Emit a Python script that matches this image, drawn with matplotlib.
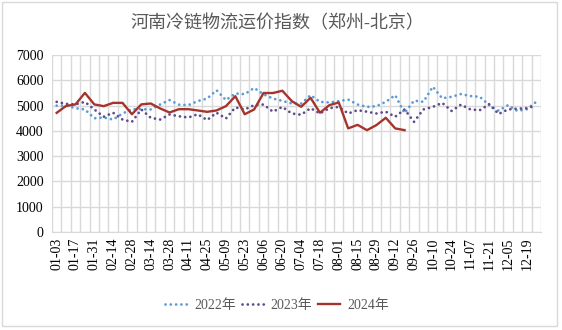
import datetime as dt

import matplotlib
matplotlib.use("Agg")
import matplotlib.pyplot as plt
from matplotlib.patches import Rectangle

# weekly categories, 01-03 .. 12-26
start = dt.date(2022, 1, 3)
weeks = [(start + dt.timedelta(days=7 * k)).strftime("%m-%d") for k in range(52)]

idx_2022 = [5000, 5000, 4900, 4850, 4500, 4530, 4450, 4690, 4860, 4860,
            4850, 5045, 5220, 5040, 5020, 5180, 5280, 5610, 5220, 5480,
            5455, 5700, 5450, 5280, 5190, 5085, 5085, 5415, 5150, 5125,
            5180, 5240, 5045, 4950, 4980, 5150, 5415, 4700, 5200, 5150,
            5750, 5290, 5350, 5460, 5380, 5350, 5020, 4800, 5020, 4790,
            4860, 5150]
idx_2023 = [5150, 5070, 5050, 5150, 4850, 4560, 4720, 4450, 4360, 4850,
            4520, 4450, 4650, 4580, 4530, 4660, 4430, 4720, 4490, 4930,
            4850, 5020, 5045, 4760, 4950, 4690, 4640, 4900, 4690, 4900,
            4950, 4690, 4820, 4760, 4690, 4760, 4560, 4850, 4360, 4850,
            4950, 5110, 4790, 5040, 4850, 4820, 5060, 4670, 4850, 4880,
            4900, 5000]
idx_2024 = [4715, 4990, 5050, 5505, 5050, 4980, 5110, 5110, 4660, 5050,
            5085, 4890, 4730, 4860, 4860, 4810, 4755, 4810, 4980, 5375,
            4660, 4850, 5500, 5500, 5590, 5180, 4955, 5310, 4720, 5020,
            5125, 4100, 4240, 4030, 4230, 4520, 4100, 4030]

title = "河南冷链物流运价指数（郑州-北京）"
serif = ["Liberation Serif", "Noto Sans CJK SC"]
grey = "#595959"
plt.rcParams["font.family"] = serif

fig = plt.figure(figsize=(5.62, 3.30), dpi=100)
fig.patches.append(Rectangle((0.003, 0.012), 0.988, 0.982, transform=fig.transFigure,
                             fill=False, edgecolor="#d9d9d9", linewidth=1))
ax = fig.add_axes([0.0925, 0.297, 0.870, 0.536])

x = list(range(len(weeks)))
ax.plot(x, idx_2022, color="#5B9BD5", lw=2, linestyle=(0, (0.01, 1.9)),
        dash_capstyle="round", label="2022年", zorder=3)
ax.plot(x, idx_2023, color="#5E4A8C", lw=2, linestyle=(0, (0.01, 1.9)),
        dash_capstyle="round", label="2023年", zorder=3)
ax.plot(x[:len(idx_2024)], idx_2024, color="#A5342D", lw=1.7,
        label="2024年", zorder=4)

ax.set_xlim(-0.5, len(weeks) - 0.5)
ax.set_ylim(0, 7000)
ax.set_yticks(range(0, 7001, 1000))
ax.set_xticks(x[::2])
ax.set_xticklabels(weeks[::2], rotation=90, fontsize=10)
ax.set_xticks([i - 0.5 for i in range(len(weeks) + 1)], minor=True)
for lab in ax.get_yticklabels():
    lab.set_fontsize(10)
ax.tick_params(axis="both", which="both", length=0, colors="black")
ax.tick_params(axis="x", pad=4)
ax.tick_params(axis="y", pad=6)

ax.grid(True, axis="y", color="#d9d9d9", lw=1)
ax.grid(True, axis="x", which="minor", color="#d9d9d9", lw=1)
ax.set_axisbelow(True)
for side in ["top", "right", "left"]:
    ax.spines[side].set_visible(False)
ax.spines["bottom"].set_color("#d9d9d9")

fig.text(0.493, 0.927, title, ha="center", va="center", fontsize=13,
         color=grey)

leg = fig.legend(loc="center", bbox_to_anchor=(0.493, 0.075), ncol=3, frameon=False,
                 prop={"size": 10}, handlelength=1.6,
                 columnspacing=0.4, handletextpad=0.5)
for t in leg.get_texts():
    t.set_color(grey)

fig.savefig("out.png", dpi=100)
